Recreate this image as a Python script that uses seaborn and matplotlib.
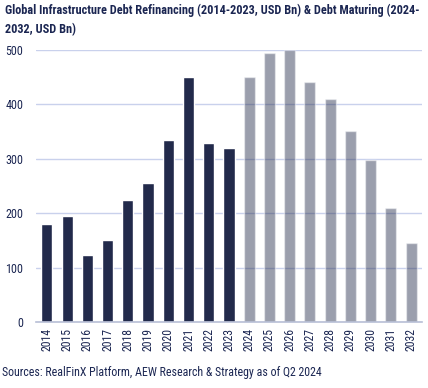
import matplotlib
matplotlib.use("Agg")
import matplotlib.pyplot as plt
import seaborn as sns
import pandas as pd
from matplotlib import font_manager

years = [str(y) for y in range(2014, 2033)]
values = [180, 195, 124, 150, 225, 255, 335, 450, 330, 320,
          450, 494, 500, 441, 410, 351, 298, 210, 145]
periods = ["Refinancing"] * 10 + ["Maturing"] * 9
yticks = [0, 100, 200, 300, 400, 500]

title = ("Global Infrastructure Debt Refinancing (2014-2023, USD Bn) & Debt Maturing (2024-\n"
         "2032, USD Bn)")
source = "Sources: RealFinX Platform, AEW Research & Strategy as of Q2 2024"

navy = "#1b2652"
text_col = "#1b2652"
grid_col = "#c9d1ec"

sns.set_theme(style="white")
avail = {f.name for f in font_manager.fontManager.ttflist}
fam = [f for f in ["Liberation Sans Narrow", "DejaVu Sans Condensed", "Roboto Condensed", "DejaVu Sans"] if f in avail]
plt.rcParams["font.family"] = fam

df = pd.DataFrame({"year": years, "value": values, "period": periods})

fig = plt.figure(figsize=(4.28, 3.88), dpi=100)
ax = fig.add_axes([0.084, 0.17, 0.902, 0.701])

sns.barplot(data=df, x="year", y="value", hue="period",
            palette={"Refinancing": navy, "Maturing": navy},
            dodge=False, width=0.55, legend=False, ax=ax, zorder=2)
# second group (maturing) is drawn translucent
for p in ax.patches:
    x = p.get_x() + p.get_width() / 2
    if x > 9.5:
        p.set_alpha(0.45)

ax.set_xlim(-0.54, 18.54)
ax.set_ylim(0, 500)
ax.set_yticks(yticks)
ax.yaxis.grid(True, color=grid_col, linewidth=1.0, zorder=1)
ax.set_axisbelow(True)
ax.set_xlabel("")
ax.set_ylabel("")
for s in ["top", "right", "left"]:
    ax.spines[s].set_visible(False)
ax.spines["bottom"].set_color("#b8bfd6")
ax.spines["bottom"].set_linewidth(1.2)
ax.tick_params(axis="x", rotation=90, labelsize=8.5, colors=text_col, length=0, pad=4)
ax.tick_params(axis="y", labelsize=8.7, colors=text_col, length=0, pad=9)

fig.text(0.012, 0.99, title, ha="left", va="top", fontsize=8.8,
         fontweight="bold", color=text_col, linespacing=1.55)
fig.text(0.005, 0.04, source, ha="left", va="center", fontsize=8.6, color=text_col)

fig.savefig("out.png", dpi=100)
